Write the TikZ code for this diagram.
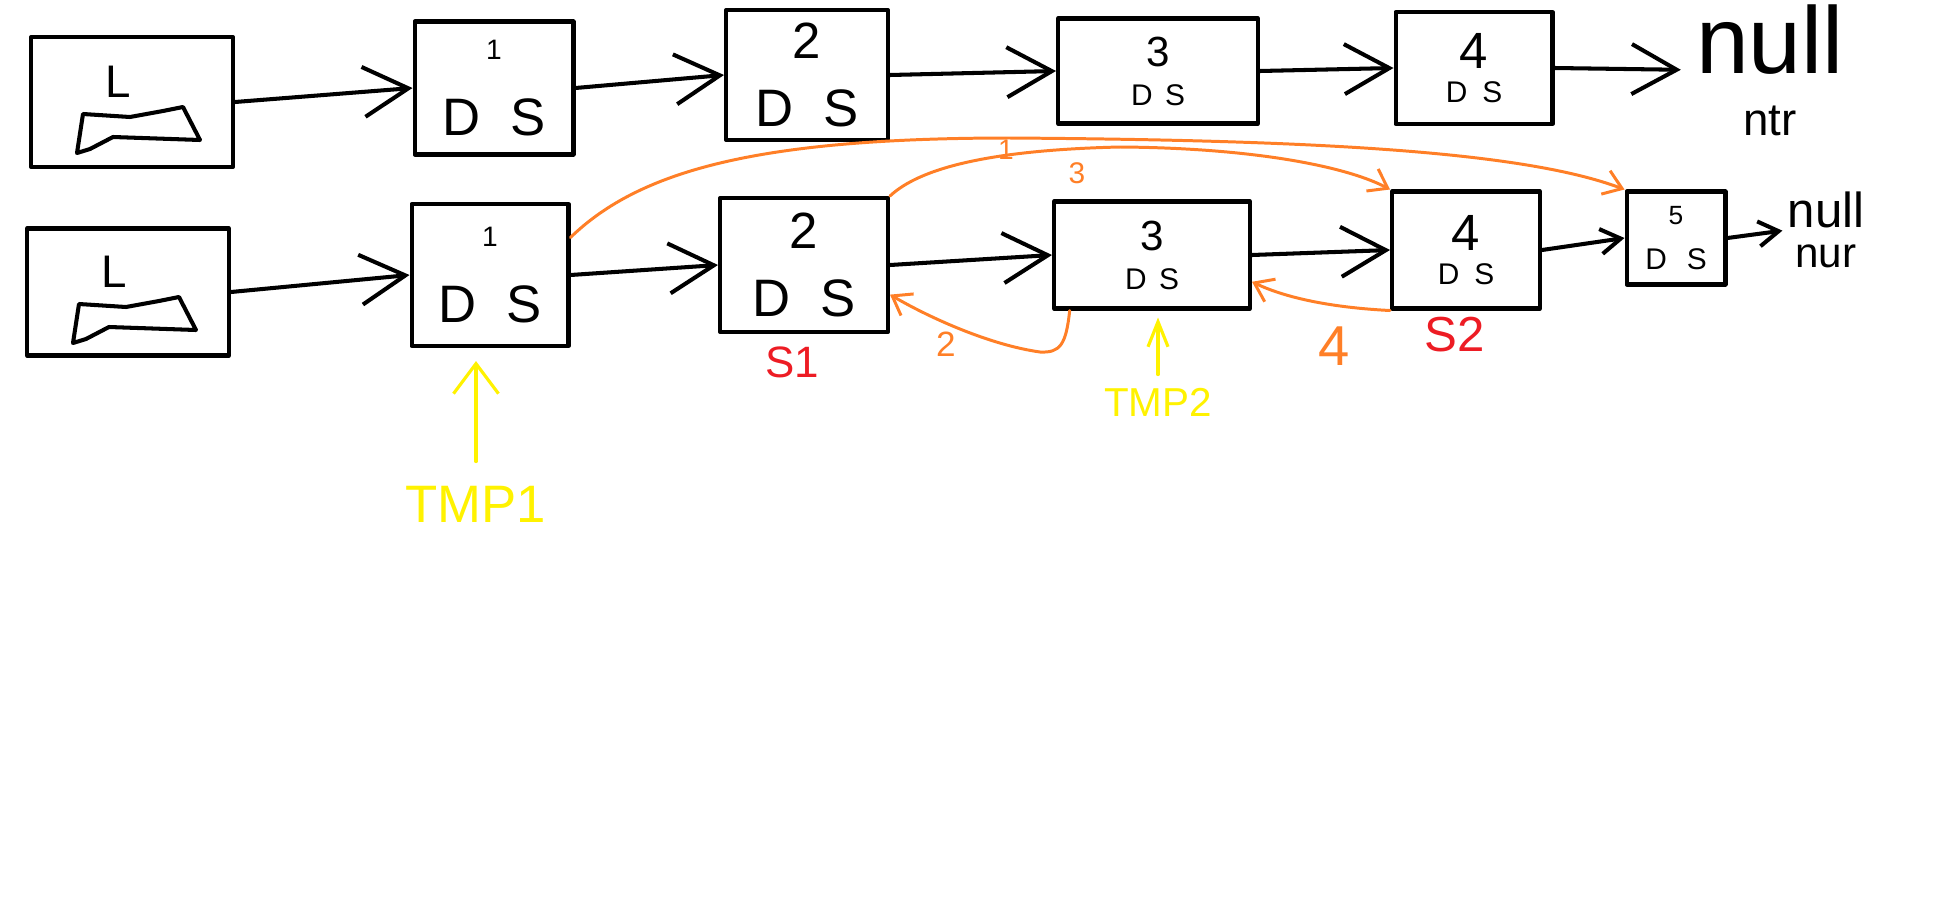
\documentclass[tikz,border=0pt]{standalone}
\usepackage{fontspec}
\setmainfont{Liberation Sans}
\usetikzlibrary{arrows.meta,positioning}
\definecolor{paintorange}{HTML}{FF7F27}
\definecolor{paintred}{HTML}{ED1C24}
\definecolor{paintyellow}{HTML}{FFF200}
\newcommand{\handsize}[1]{\fontsize{#1}{#1}\selectfont}

\begin{document}
\begin{tikzpicture}[
  x=0.02cm, y=-0.02cm, line cap=round, line join=round,
  cell/.style={draw, line width=2.3pt, align=center, inner sep=0pt},
  link/.style={line width=2.3pt, -{Straight Barb[length=9mm, width=10mm]}},
  shortlink/.style={line width=2.3pt, -{Straight Barb[length=4mm, width=5mm]}},
  jump/.style={draw=paintorange, line width=1.7pt, -{Straight Barb[length=3.5mm, width=5mm]}},
  pointer/.style={draw=paintyellow, line width=1.8pt},
  jumpnum/.style={text=paintorange, inner sep=0pt},
  tag/.style={text=paintred, inner sep=0pt},
  tmptag/.style={text=paintyellow, inner sep=0pt}
]
  \useasboundingbox (0,0) rectangle (1940,903);

  % first list
  \node[cell, minimum width=4.04cm, minimum height=2.6cm] (headA) at (132,102) {};
  \node[cell, minimum width=3.18cm, minimum height=2.66cm] (nodeA1) at (494,88) {\handsize{16}1\\[7.6mm]\handsize{30}D\hspace{6mm}S};
  \node[cell, minimum width=3.24cm, minimum height=2.6cm] (nodeA2) at (807,75) {\handsize{29}2\\[5.8mm]\handsize{30}D\hspace{6mm}S};
  \node[cell, minimum width=4.0cm, minimum height=2.1cm] (nodeA3) at (1158,71) {\handsize{24}3\\[3.2mm]\handsize{17}D\hspace{2.5mm}S};
  \node[cell, minimum width=3.14cm, minimum height=2.24cm] (nodeA4) at (1474,68) {\handsize{29}4\\[2.6mm]\handsize{17}D\hspace{3mm}S};
  \node[inner sep=0pt, align=center] (nullA) at (1770,70) {\handsize{54}null\\[6mm]\handsize{26}ntr};

  % second list
  \node[cell, minimum width=4.04cm, minimum height=2.54cm] (headB) at (128,292) {};
  \node[cell, minimum width=3.14cm, minimum height=2.84cm] (nodeB1) at (490,275) {\handsize{16}1\\[7.6mm]\handsize{30}D\hspace{6mm}S};
  \node[cell, minimum width=3.36cm, minimum height=2.68cm] (nodeB2) at (804,265) {\handsize{29}2\\[5.8mm]\handsize{30}D\hspace{6mm}S};
  \node[cell, minimum width=3.92cm, minimum height=2.14cm] (nodeB3) at (1152,255) {\handsize{24}3\\[3.2mm]\handsize{17}D\hspace{2.5mm}S};
  \node[cell, minimum width=2.96cm, minimum height=2.34cm] (nodeB4) at (1466,250) {\handsize{29}4\\[2.6mm]\handsize{17}D\hspace{3mm}S};
  \node[cell, minimum width=1.98cm, minimum height=1.86cm] (nodeB5) at (1676,238) {\handsize{15}5\\[4.4mm]\handsize{17}D\hspace{4mm}S};
  \node[inner sep=0pt, align=center] (nullB) at (1826,230) {\handsize{28}null\\[3mm]\handsize{24}nur};

  % head boxes
  \node[inner sep=0pt] (headA-L) at (118,82) {\handsize{26}L};
  \node[inner sep=0pt] (headB-L) at (114,272) {\handsize{26}L};
  \foreach \h in {headA,headB}
    \draw[line width=2.3pt, shift={(\h.center)}] (-49,12) -- (-2,15) -- (31,9) -- (51,5) -- (68,38) -- (-19,35) -- (-42,47) -- (-55,51) -- cycle;

  \draw[link] (headA.east) -- (nodeA1.west);
  \draw[link] (nodeA1.east) -- (nodeA2.west);
  \draw[link] (nodeA2.east) -- (nodeA3.west);
  \draw[link] (nodeA3.east) -- (nodeA4.west);
  \draw[link, shorten >=3mm] (nodeA4.east) -- (nullA.west);

  \draw[link] (headB.east) -- (nodeB1.west);
  \draw[link] (nodeB1.east) -- (nodeB2.west);
  \draw[link] (nodeB2.east) -- (nodeB3.west);
  \draw[link] (nodeB3.east) -- (nodeB4.west);
  \draw[shortlink] (nodeB4.east) -- (nodeB5.west);
  \draw[shortlink, shorten >=1mm] (nodeB5.east) -- (nullB.west);

  % rewiring
  \draw[jump] (nodeB1.25) .. controls (640,170) and (760,138) .. (1010,138) .. controls (1300,140) and (1520,150) .. (nodeB5.north west);
  \draw[jump] (nodeB2.north east) .. controls (920,168) and (990,150) .. (1120,147) .. controls (1260,148) and (1350,168) .. (nodeB4.north west);
  \draw[jump] (nodeB3.-146) .. controls (1066,345) and (1060,353) .. (1040,352) .. controls (990,345) and (930,318) .. (nodeB2.-19);
  \draw[jump] (nodeB4.south west) .. controls (1340,308) and (1290,300) .. (nodeB3.-15);
  \node[jumpnum] (num1) at (1006,150) {\handsize{16}1};
  \node[jumpnum] (num3) at (1077,173) {\handsize{17}3};
  \node[jumpnum] (num2) at (946,344) {\handsize{20}2};
  \node[jumpnum] (num4) at (1334,346) {\handsize{32}4};

  \node[tag] (s1) at (792,362) {\handsize{25}S1};
  \node[tag] (s2) at (1455,335) {\handsize{28}S2};

  \node[tmptag] (tmp1) at (476,504) {\handsize{30}TMP1};
  \node[tmptag] (tmp2) at (1158,402) {\handsize{23}TMP2};
  \draw[pointer, -{Straight Barb[length=6mm, width=9mm]}, shorten >=2.6mm, shorten <=4.8mm] (tmp1.north) -- (tmp1.north |- nodeB1.south);
  \draw[pointer, -{Straight Barb[length=5mm, width=4mm]}, shorten >=1.4mm, shorten <=2.6mm] (tmp2.north) -- (tmp2.north |- nodeB3.south);
\end{tikzpicture}
\end{document}
